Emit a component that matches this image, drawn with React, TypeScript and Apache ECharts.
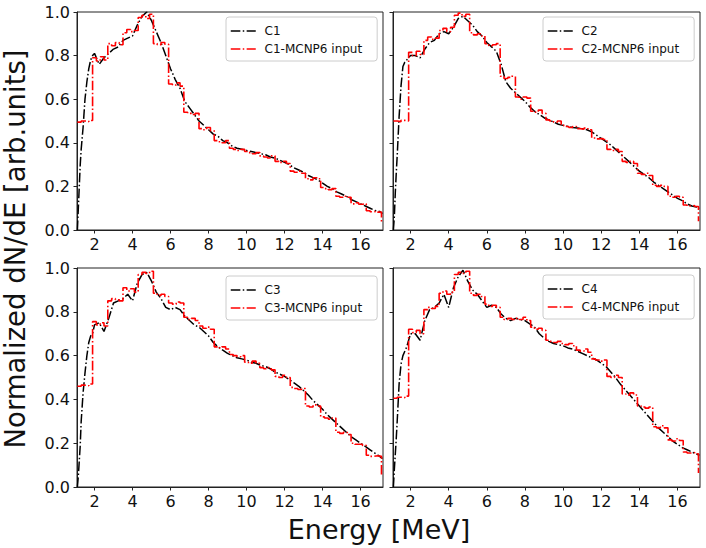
import { useEffect, useRef } from "react";
import * as echarts from "echarts";

const xTickValues = [2, 4, 6, 8, 10, 12, 14, 16];
const yTickValues = [0, 0.2, 0.4, 0.6, 0.8, 1.0];
const blackNames = ["C1", "C2", "C3", "C4"];
const redNames = ["C1-MCNP6 input", "C2-MCNP6 input", "C3-MCNP6 input", "C4-MCNP6 input"];

// Energy grid of the black (measured) curves, MeV
const blackEarlyE = [1.1, 1.15, 1.2, 1.25, 1.3, 1.4, 1.5, 1.6, 1.7, 1.8, 1.9];
const blackStepStart = 2.0;
const blackStep = 0.25;
const blackStepCount = 61; // 2.0 .. 17.0
const blackLastE = 17.15;

// Energy grid of the red (MCNP6 input) step curves: left edges, 0.2 MeV
const redStartE = 1.1;
const redStep = 0.2;
const redCount = 81; // 1.1 .. 17.1

const c1Black = [
  0.0, 0.1, 0.2, 0.3, 0.37, 0.47, 0.6, 0.68, 0.74, 0.78, 0.8,
  0.81, 0.76, 0.79, 0.81, 0.83, 0.84, 0.87, 0.88, 0.89, 0.94,
  0.98, 1.0, 0.96, 0.91, 0.86, 0.8, 0.74, 0.69, 0.65, 0.59,
  0.56, 0.53, 0.5, 0.48, 0.46, 0.44, 0.43, 0.41, 0.4, 0.385,
  0.375, 0.37, 0.365, 0.36, 0.355, 0.35, 0.345, 0.335, 0.33, 0.32,
  0.31, 0.3, 0.285, 0.275, 0.265, 0.25, 0.24, 0.23, 0.215, 0.2,
  0.19, 0.175, 0.165, 0.155, 0.14, 0.13, 0.12, 0.11, 0.1, 0.09,
  0.085, 0.075,
];
const c1Red = [
  0.495, 0.5, 0.497, 0.502,
  0.79, 0.775, 0.795, 0.78,
  0.855, 0.845, 0.86, 0.85,
  0.905, 0.92, 0.91, 0.915,
  0.975, 0.985, 0.97, 0.99,
  0.855, 0.85, 0.86, 0.852,
  0.67, 0.665, 0.675, 0.66,
  0.54, 0.535, 0.53, 0.535,
  0.465, 0.46, 0.47, 0.455,
  0.41, 0.405, 0.4, 0.41,
  0.375, 0.37, 0.365, 0.37,
  0.36, 0.355, 0.35, 0.355,
  0.34, 0.335, 0.33, 0.34,
  0.315, 0.31, 0.315, 0.305,
  0.27, 0.265, 0.27, 0.26,
  0.235, 0.23, 0.24, 0.235,
  0.195, 0.19, 0.185, 0.19,
  0.155, 0.15, 0.155, 0.15,
  0.12, 0.125, 0.118, 0.12,
  0.088, 0.084, 0.086, 0.082,
  0.03,
];

const c2Black = [
  0.0, 0.06, 0.17, 0.26, 0.34, 0.52, 0.66, 0.75, 0.77, 0.78, 0.79,
  0.8, 0.8, 0.79, 0.83, 0.86, 0.87, 0.9, 0.91, 0.9, 0.93,
  0.97, 0.98, 0.96, 0.94, 0.91, 0.89, 0.86, 0.84, 0.82, 0.76,
  0.68, 0.65, 0.63, 0.61, 0.59, 0.565, 0.545, 0.53, 0.515, 0.505,
  0.495, 0.485, 0.48, 0.475, 0.47, 0.468, 0.465, 0.46, 0.45, 0.435,
  0.42, 0.405, 0.39, 0.37, 0.35, 0.33, 0.31, 0.29, 0.27, 0.255,
  0.24, 0.22, 0.205, 0.19, 0.175, 0.16, 0.145, 0.135, 0.12, 0.11,
  0.105, 0.1,
];
const c2Red = [
  0.5, 0.497, 0.503, 0.5,
  0.815, 0.8, 0.82, 0.805,
  0.87, 0.885, 0.875, 0.88,
  0.915, 0.925, 0.91, 0.93,
  0.985, 0.995, 0.98, 0.99,
  0.905, 0.895, 0.9, 0.89,
  0.855, 0.845, 0.85, 0.855,
  0.705, 0.695, 0.7, 0.705,
  0.61, 0.6, 0.61, 0.605,
  0.545, 0.54, 0.55, 0.535,
  0.505, 0.5, 0.495, 0.5,
  0.48, 0.475, 0.47, 0.475,
  0.465, 0.462, 0.468, 0.46,
  0.422, 0.418, 0.42, 0.415,
  0.37, 0.365, 0.37, 0.36,
  0.315, 0.31, 0.315, 0.305,
  0.26, 0.255, 0.26, 0.25,
  0.205, 0.2, 0.205, 0.2,
  0.155, 0.15, 0.155, 0.15,
  0.115, 0.11, 0.112, 0.108,
  0.04,
];

const c3Black = [
  0.0, 0.05, 0.12, 0.19, 0.3, 0.43, 0.52, 0.6, 0.66, 0.69, 0.7,
  0.74, 0.75, 0.71, 0.77, 0.84, 0.85, 0.86, 0.88, 0.85, 0.93,
  0.97, 0.98, 0.94, 0.89, 0.86, 0.82, 0.81, 0.82, 0.81, 0.78,
  0.76, 0.74, 0.73, 0.71, 0.69, 0.66, 0.64, 0.625, 0.61, 0.6,
  0.59, 0.585, 0.58, 0.57, 0.565, 0.555, 0.55, 0.54, 0.525, 0.515,
  0.505, 0.49, 0.475, 0.46, 0.44, 0.42, 0.395, 0.375, 0.355, 0.33,
  0.31, 0.29, 0.27, 0.25, 0.23, 0.215, 0.2, 0.185, 0.17, 0.155,
  0.14, 0.13,
];
const c3Red = [
  0.46, 0.465, 0.462, 0.47,
  0.755, 0.74, 0.75, 0.735,
  0.85, 0.86, 0.855, 0.85,
  0.91, 0.895, 0.905, 0.89,
  0.97, 0.98, 0.975, 0.985,
  0.885, 0.875, 0.88, 0.87,
  0.84, 0.835, 0.845, 0.84,
  0.775, 0.765, 0.77, 0.76,
  0.735, 0.725, 0.73, 0.72,
  0.64, 0.635, 0.64, 0.63,
  0.605, 0.6, 0.595, 0.6,
  0.57, 0.565, 0.575, 0.565,
  0.545, 0.54, 0.545, 0.535,
  0.505, 0.5, 0.51, 0.5,
  0.455, 0.45, 0.445, 0.45,
  0.37, 0.365, 0.375, 0.37,
  0.32, 0.315, 0.31, 0.315,
  0.25, 0.245, 0.25, 0.24,
  0.2, 0.195, 0.195, 0.19,
  0.145, 0.14, 0.143, 0.14,
  0.055,
];

const c4Black = [
  0.0, 0.08, 0.15, 0.22, 0.3, 0.47, 0.56, 0.6, 0.62, 0.64, 0.67,
  0.7, 0.7, 0.67, 0.76, 0.81, 0.82, 0.84, 0.88, 0.82, 0.91,
  0.96, 0.99, 0.94, 0.9, 0.88, 0.85, 0.82, 0.83, 0.82, 0.79,
  0.77, 0.76, 0.77, 0.765, 0.76, 0.745, 0.73, 0.7, 0.68, 0.665,
  0.655, 0.65, 0.645, 0.635, 0.63, 0.62, 0.61, 0.6, 0.59, 0.58,
  0.565, 0.55, 0.525, 0.5, 0.47, 0.445, 0.42, 0.395, 0.37, 0.345,
  0.32, 0.295, 0.27, 0.25, 0.23, 0.21, 0.195, 0.18, 0.17, 0.16,
  0.15, 0.145,
];
const c4Red = [
  0.405, 0.41, 0.408, 0.415,
  0.72, 0.705, 0.715, 0.7,
  0.81, 0.82, 0.815, 0.825,
  0.885, 0.895, 0.88, 0.89,
  0.97, 0.98, 0.975, 0.985,
  0.885, 0.875, 0.88, 0.87,
  0.835, 0.825, 0.83, 0.82,
  0.775, 0.765, 0.77, 0.765,
  0.77, 0.765, 0.775, 0.76,
  0.73, 0.72, 0.725, 0.715,
  0.67, 0.665, 0.66, 0.665,
  0.655, 0.65, 0.655, 0.645,
  0.625, 0.62, 0.63, 0.615,
  0.585, 0.58, 0.575, 0.58,
  0.505, 0.5, 0.51, 0.5,
  0.425, 0.42, 0.43, 0.42,
  0.37, 0.365, 0.36, 0.365,
  0.275, 0.27, 0.28, 0.27,
  0.215, 0.21, 0.22, 0.212,
  0.16, 0.155, 0.157, 0.152,
  0.064,
];

const blackSeries = [c1Black, c2Black, c3Black, c4Black];
const redSeries = [c1Red, c2Red, c3Red, c4Red];

const FONT = "DejaVu Sans";
const DASHDOT = [9.6, 2.4, 1.5, 2.4];

const grids = [
  { left: 77, top: 12, width: 306, height: 218 },
  { left: 393, top: 12, width: 307, height: 218 },
  { left: 77, top: 268, width: 306, height: 219 },
  { left: 393, top: 268, width: 307, height: 219 },
];
const legendPos = [
  { left: 226, top: 17 },
  { left: 543, top: 17 },
  { left: 226, top: 276 },
  { left: 543, top: 275 },
];

export default function App() {
  const ref = useRef<HTMLDivElement>(null);
  useEffect(() => {
    if (!ref.current) return;
    const chart = echarts.init(ref.current, undefined, { renderer: "svg" });

    const blackE: number[] = [...blackEarlyE];
    for (let i = 0; i < blackStepCount; i++) blackE.push(Math.round((blackStepStart + blackStep * i) * 100) / 100);
    blackE.push(blackLastE);
    const redE: number[] = [];
    for (let i = 0; i < redCount; i++) redE.push(Math.round((redStartE + redStep * i) * 100) / 100);

    const series: any[] = [];
    for (let p = 0; p < 4; p++) {
      series.push({
        type: "line",
        name: blackNames[p],
        xAxisIndex: p,
        yAxisIndex: p,
        data: blackSeries[p].map((v, i) => [blackE[i], v]),
        symbol: "none",
        showSymbol: false,
        lineStyle: { color: "#000", width: 1.5, type: DASHDOT },
        itemStyle: { color: "#000" },
        z: 2,
      });
      series.push({
        type: "line",
        name: redNames[p],
        xAxisIndex: p,
        yAxisIndex: p,
        step: "end",
        data: redSeries[p].map((v, i) => [redE[i], v]),
        symbol: "none",
        showSymbol: false,
        lineStyle: { color: "#ff0000", width: 1.6, type: DASHDOT },
        itemStyle: { color: "#ff0000" },
        z: 3,
      });
    }

    const option: any = {
      animation: false,
      backgroundColor: "#fff",
      textStyle: { fontFamily: FONT },
      grid: grids.map((g) => ({ ...g, show: true, borderColor: "#222", borderWidth: 1, backgroundColor: "#fff" })),
      xAxis: grids.map((_, p) => ({
        type: "value",
        gridIndex: p,
        min: 1.08,
        max: 17.18,
        splitLine: { show: false },
        axisLine: { show: true, onZero: false, lineStyle: { color: "#222", width: 1 } },
        axisTick: { show: true, inside: false, length: 3.5, customValues: xTickValues, lineStyle: { color: "#222" } },
        axisLabel: { show: true, customValues: xTickValues, margin: 6, fontSize: 16, color: "#111", fontFamily: FONT },
      })),
      yAxis: grids.map((_, p) => ({
        type: "value",
        gridIndex: p,
        min: 0,
        max: 1,
        interval: 0.2,
        splitLine: { show: false },
        axisLine: { show: true, onZero: false, lineStyle: { color: "#222", width: 1 } },
        axisTick: { show: true, inside: false, length: 3.5, lineStyle: { color: "#222" } },
        axisLabel: {
          show: p % 2 === 0,
          margin: 7,
          fontSize: 16,
          color: "#111",
          fontFamily: FONT,
          formatter: (v: number) => (yTickValues.includes(Math.round(v * 10) / 10) ? v.toFixed(1) : ""),
        },
      })),
      legend: legendPos.map((pos, p) => ({
        ...pos,
        orient: "vertical",
        data: [blackNames[p], redNames[p]],
        itemWidth: 25,
        itemHeight: 14,
        itemGap: 6,
        padding: [8, 15, 6, 4],
        borderColor: "#cccccc",
        borderWidth: 1,
        borderRadius: 3,
        backgroundColor: "rgba(255,255,255,0.8)",
        itemStyle: { opacity: 0 },
        lineStyle: { width: 1.5 },
        formatter: (name: string) => " " + name,
        textStyle: { fontSize: 12, color: "#111", fontFamily: FONT },
        selectedMode: false,
      })),
      graphic: [
        {
          type: "text",
          x: 15,
          y: 249,
          rotation: Math.PI / 2,
          style: {
            text: "Normalized dN/dE [arb.units]",
            fontSize: 27.5,
            fontFamily: FONT,
            fill: "#111",
            textAlign: "center",
            textVerticalAlign: "middle",
          },
        },
        {
          type: "text",
          x: 379,
          y: 529,
          style: {
            text: "Energy [MeV]",
            fontSize: 27,
            fontFamily: FONT,
            fill: "#111",
            textAlign: "center",
            textVerticalAlign: "middle",
          },
        },
      ],
      series,
    };
    chart.setOption(option);
    return () => chart.dispose();
  }, []);
  return <div ref={ref} style={{ width: 706, height: 548, position: "absolute", left: 0, top: 0 }} />;
}
